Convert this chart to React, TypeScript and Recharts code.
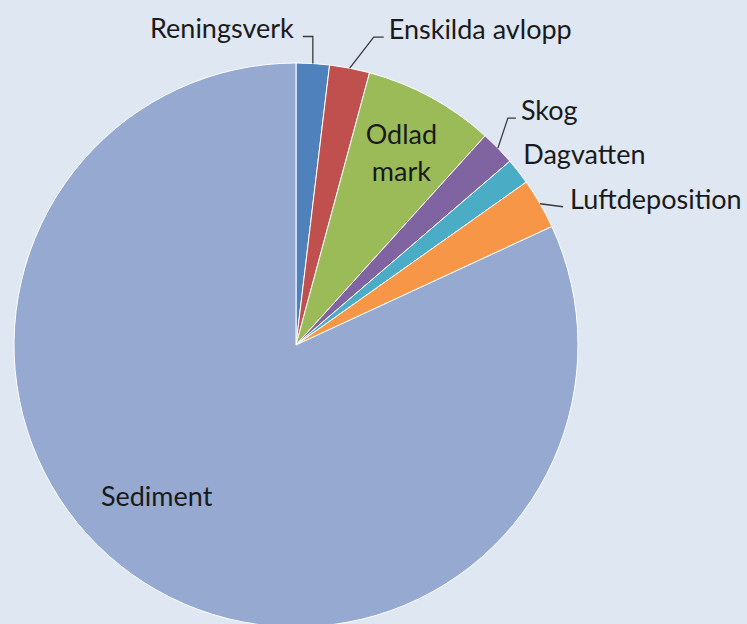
import { PieChart, Pie, Cell } from 'recharts'

const SOURCES = ['Reningsverk', 'Enskilda avlopp', 'Odlad mark', 'Skog', 'Dagvatten', 'Luftdeposition', 'Sediment']
const SHARES = [1.9, 2.3, 7.5, 2.0, 1.5, 2.9, 81.9]
const COLORS = ['#4f81bd', '#c0504d', '#9bbb59', '#8064a2', '#4bacc6', '#f79646', '#95a9d1']

const data = SOURCES.map((name, i) => ({ name, value: SHARES[i] }))

const RADIAN = Math.PI / 180
const FONT = 'Lato, sans-serif'
const TEXT_COLOR = '#1a1a1a'

// label placement relative to the point on the rim at the slice's mid angle
type Layout = { line?: number[][]; text: number[]; anchor: 'start' | 'end' | 'middle'; inside?: number }
const LAYOUT: Record<string, Layout> = {
  Reningsverk: { line: [[0, -27], [-10, -27]], text: [-19, -36], anchor: 'end' },
  'Enskilda avlopp': { line: [[24, -31], [34, -31]], text: [39, -40], anchor: 'start' },
  'Odlad mark': { text: [0, 0], anchor: 'middle', inside: 0.78 },
  Skog: { line: [[10, -30], [18, -30]], text: [23, -39], anchor: 'start' },
  Dagvatten: { text: [5, -18], anchor: 'start' },
  Luftdeposition: { line: [[23, 3]], text: [30, -5], anchor: 'start' },
  Sediment: { text: [-29, -22], anchor: 'middle', inside: 0.727 },
}

function SliceLabel(props: any) {
  const { cx, cy, midAngle, outerRadius, name } = props
  const cfg = LAYOUT[name]
  if (!cfg) return null
  const cos = Math.cos(-midAngle * RADIAN)
  const sin = Math.sin(-midAngle * RADIAN)
  const r = cfg.inside ? outerRadius * cfg.inside : outerRadius
  const px = cx + r * cos
  const py = cy + r * sin
  const tx = px + cfg.text[0]
  const ty = py + cfg.text[1]
  const lines = name === 'Odlad mark' ? ['Odlad', 'mark'] : [name]
  const pts = cfg.line ? [[px, py], ...cfg.line.map(([dx, dy]) => [px + dx, py + dy])] : null
  return (
    <g>
      {pts && (
        <polyline
          points={pts.map(p => p.join(',')).join(' ')}
          fill="none"
          stroke="#3a3a3a"
          strokeWidth={1.3}
        />
      )}
      {lines.map((t, i) => (
        <text
          key={t}
          x={tx}
          y={ty + (i - (lines.length - 1) / 2) * 36.5}
          textAnchor={cfg.anchor}
          dominantBaseline="central"
          fontFamily={FONT}
          fontSize={27}
          fill={TEXT_COLOR}
        >
          {t}
        </text>
      ))}
    </g>
  )
}

export default function App() {
  return (
    <div style={{ position: 'fixed', left: 0, top: 0, width: 747, height: 624, background: '#dee7f2' }}>
      <PieChart width={747} height={624} margin={{ top: 0, right: 0, bottom: 0, left: 0 }}>
        <Pie
          data={data}
          dataKey="value"
          nameKey="name"
          cx={296}
          cy={345}
          outerRadius={282}
          startAngle={90}
          endAngle={-270}
          stroke="#ffffff"
          strokeWidth={1}
          label={SliceLabel}
          labelLine={false}
          isAnimationActive={false}
        >
          {data.map((d, i) => (
            <Cell key={d.name} fill={COLORS[i]} />
          ))}
        </Pie>
      </PieChart>
    </div>
  )
}
